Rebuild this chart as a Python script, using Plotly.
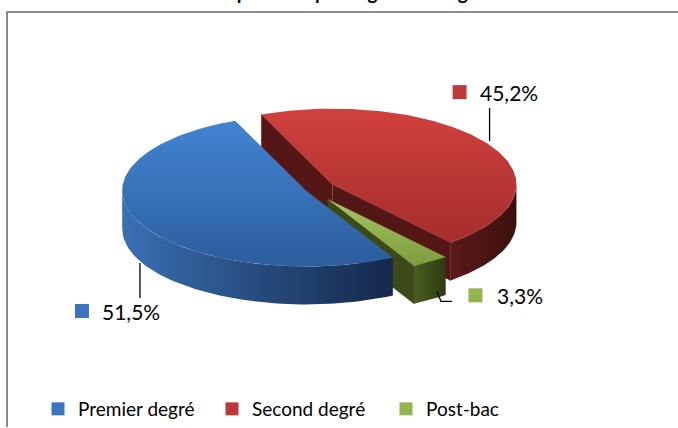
import numpy as np
import plotly.graph_objects as go

# ---------------- data ----------------
categories = ["Premier degré", "Second degré", "Post-bac"]
values = [51.5, 45.2, 3.3]
value_labels = ["51,5%", "45,2%", "3,3%"]
title_text = "Répartition par degré d'enseignement"

# ---------------- style / geometry ----------------
W, H = 678, 428
CX, CY = 312, 190          # pie centre (px)
A, B = 184, 76             # ellipse semi axes (px)
DEPTH = 38                 # 3D thickness (px)
START = 337.3              # angle of first slice start (deg, clockwise from 12 o'clock)
order = [1, 2, 0]          # slice order clockwise
pulls = {0: 0.035, 1: 0.13, 2: 0.15}
top_cols = {0: ("#4284d3", "#2c5d9c"), 1: ("#d0403d", "#a52e2c"), 2: ("#a6c663", "#7d9c3e")}
arc_cols = {0: ("#3a6fb3", "#14284a"), 1: ("#5c1a19", "#3a0f0e"), 2: ("#4a5e1f", "#2e3b12")}
rad_cols = {0: "#284f86", 1: "#541716", 2: "#3b4a18"}
legend_cols = {0: "#3a75c0", 1: "#c0393a", 2: "#92b553"}
FONT = "Lato, Calibri, sans-serif"

total = sum(values)
ang = {}
a0 = START
for i in order:
    span = values[i] / total * 360.0
    ang[i] = (a0, a0 + span)
    a0 += span


def centre(i):
    s, e = ang[i]
    m = np.radians((s + e) / 2)
    p = pulls[i]
    return CX + p * A * np.sin(m), CY - p * B * np.cos(m)


def pt(theta_deg, c, dz=0.0):
    t = np.radians(theta_deg)
    return c[0] + A * np.sin(t), c[1] - B * np.cos(t) + dz


walls = []   # (key, xs, ys, colour spec)
tops = []
for i in order:
    s, e = ang[i]
    c = centre(i)
    # outer curved wall: visible where facing viewer (90..270 deg)
    for k in (-360, 0, 360):
        a_lo, a_hi = max(s, 90 + k), min(e, 270 + k)
        if a_hi > a_lo:
            th = np.linspace(a_lo, a_hi, 80)
            xt, yt = zip(*[pt(t, c) for t in th])
            xb, yb = zip(*[pt(t, c, DEPTH) for t in th[::-1]])
            xs = list(xt) + list(xb)
            ys = list(yt) + list(yb)
            walls.append((max(yt), xs, ys, ("h", arc_cols[i])))
    # radial walls
    for th_, vis in ((s, np.sin(np.radians(s)) < 0), (e, np.sin(np.radians(e)) > 0)):
        if vis:
            ox, oy = pt(th_, c)
            xs = [c[0], ox, ox, c[0]]
            ys = [c[1], oy, oy + DEPTH, c[1] + DEPTH]
            walls.append((max(c[1], oy), xs, ys, ("s", rad_cols[i])))
    # top face
    th = np.linspace(s, e, 160)
    xt, yt = zip(*[pt(t, c) for t in th])
    xs = [c[0]] + list(xt) + [c[0]]
    ys = [c[1]] + list(yt) + [c[1]]
    tops.append((max(ys), xs, ys, ("v", top_cols[i])))

fig = go.Figure()


def add_poly(xs, ys, spec):
    kind, col = spec
    kw = dict(x=xs, y=ys, mode="lines", fill="toself", line=dict(width=0),
              hoverinfo="skip", showlegend=False)
    if kind == "s":
        kw["fillcolor"] = col
        kw["line"] = dict(width=0.5, color=col)
    elif kind == "h":
        kw["fillcolor"] = col[0]
        kw["fillgradient"] = dict(type="horizontal", colorscale=[[0, col[0]], [1, col[1]]],
                                  start=min(xs), stop=max(xs))
    else:
        kw["fillcolor"] = col[0]
        kw["fillgradient"] = dict(type="vertical", colorscale=[[0, col[0]], [1, col[1]]],
                                  start=min(ys), stop=max(ys))
    fig.add_trace(go.Scatter(**kw))


for _, xs, ys, spec in sorted(walls, key=lambda w: w[0]):
    add_poly(xs, ys, spec)
for _, xs, ys, spec in sorted(tops, key=lambda w: w[0]):
    add_poly(xs, ys, spec)

# ---------------- data labels with leader lines ----------------
annotations = []
for i in range(3):
    s, e = ang[i]
    m = (s + e) / 2
    c = centre(i)
    if i == 0:      # below-left
        ax, ay = pt(m, c, DEPTH)
        lx, ly = [ax, ax], [ay + 2, ay + 37]
        sq = (ax - 58, ay + 50)
        tx = ax - 40
    elif i == 1:    # above-right
        ax, ay = pt(m, c)
        lx, ly = [ax, ax], [ay - 4, ay - 37]
        sq = (ax - 30, ay - 53)
        tx = ax - 12
    else:           # small slice, right
        ax, ay = pt(m, c, DEPTH)
        lx, ly = [ax + 6.5, ax + 10.5, ax + 21.5], [ay - 8.4, ay + 1.6, ay + 1.6]
        sq = (ax + 45, ay - 4.4)
        tx = ax + 64.5
    fig.add_trace(go.Scatter(x=lx, y=ly, mode="lines", line=dict(color="#000000", width=1.3),
                             hoverinfo="skip", showlegend=False))
    fig.add_trace(go.Scatter(x=[sq[0]], y=[sq[1]], mode="markers",
                             marker=dict(symbol="square", size=14, color=legend_cols[i]),
                             hoverinfo="skip", showlegend=False))
    annotations.append(dict(x=tx, y=sq[1], xref="x", yref="y", text=value_labels[i],
                            showarrow=False, xanchor="left", yanchor="middle",
                            font=dict(family=FONT, size=21, color="#000000")))

# legend entries
for i in range(3):
    fig.add_trace(go.Scatter(x=[None], y=[None], mode="markers", name=categories[i],
                             marker=dict(symbol="square", size=13, color=legend_cols[i])))

# title (cropped at top in the reference)
annotations.append(dict(x=373, y=6, xref="x", yref="y", text="<b>" + title_text + "</b>",
                        showarrow=False, xanchor="center", yanchor="bottom",
                        font=dict(family=FONT, size=19, color="#000000")))

fig.update_layout(
    width=W, height=H,
    margin=dict(l=0, r=0, t=0, b=0),
    paper_bgcolor="white", plot_bgcolor="white",
    xaxis=dict(range=[0, W], visible=False, fixedrange=True),
    yaxis=dict(range=[H, 0], visible=False, fixedrange=True),
    shapes=[dict(type="rect", xref="x", yref="y", x0=7, y0=12, x1=W + 60, y1=H + 60,
                 line=dict(color="#8c8c8c", width=2), fillcolor="rgba(0,0,0,0)", layer="below")],
    annotations=annotations,
    showlegend=True,
    legend=dict(orientation="h", x=38 / W, xanchor="left", y=1 - 410 / H, yanchor="middle",
                entrywidth=129, font=dict(family=FONT, size=19, color="#000000"),
                bgcolor="rgba(0,0,0,0)", itemclick=False, itemdoubleclick=False),
)

fig.write_html("out.html", config={"displayModeBar": False},
               post_script="document.body.style.margin='0';document.body.style.overflow='hidden';")
